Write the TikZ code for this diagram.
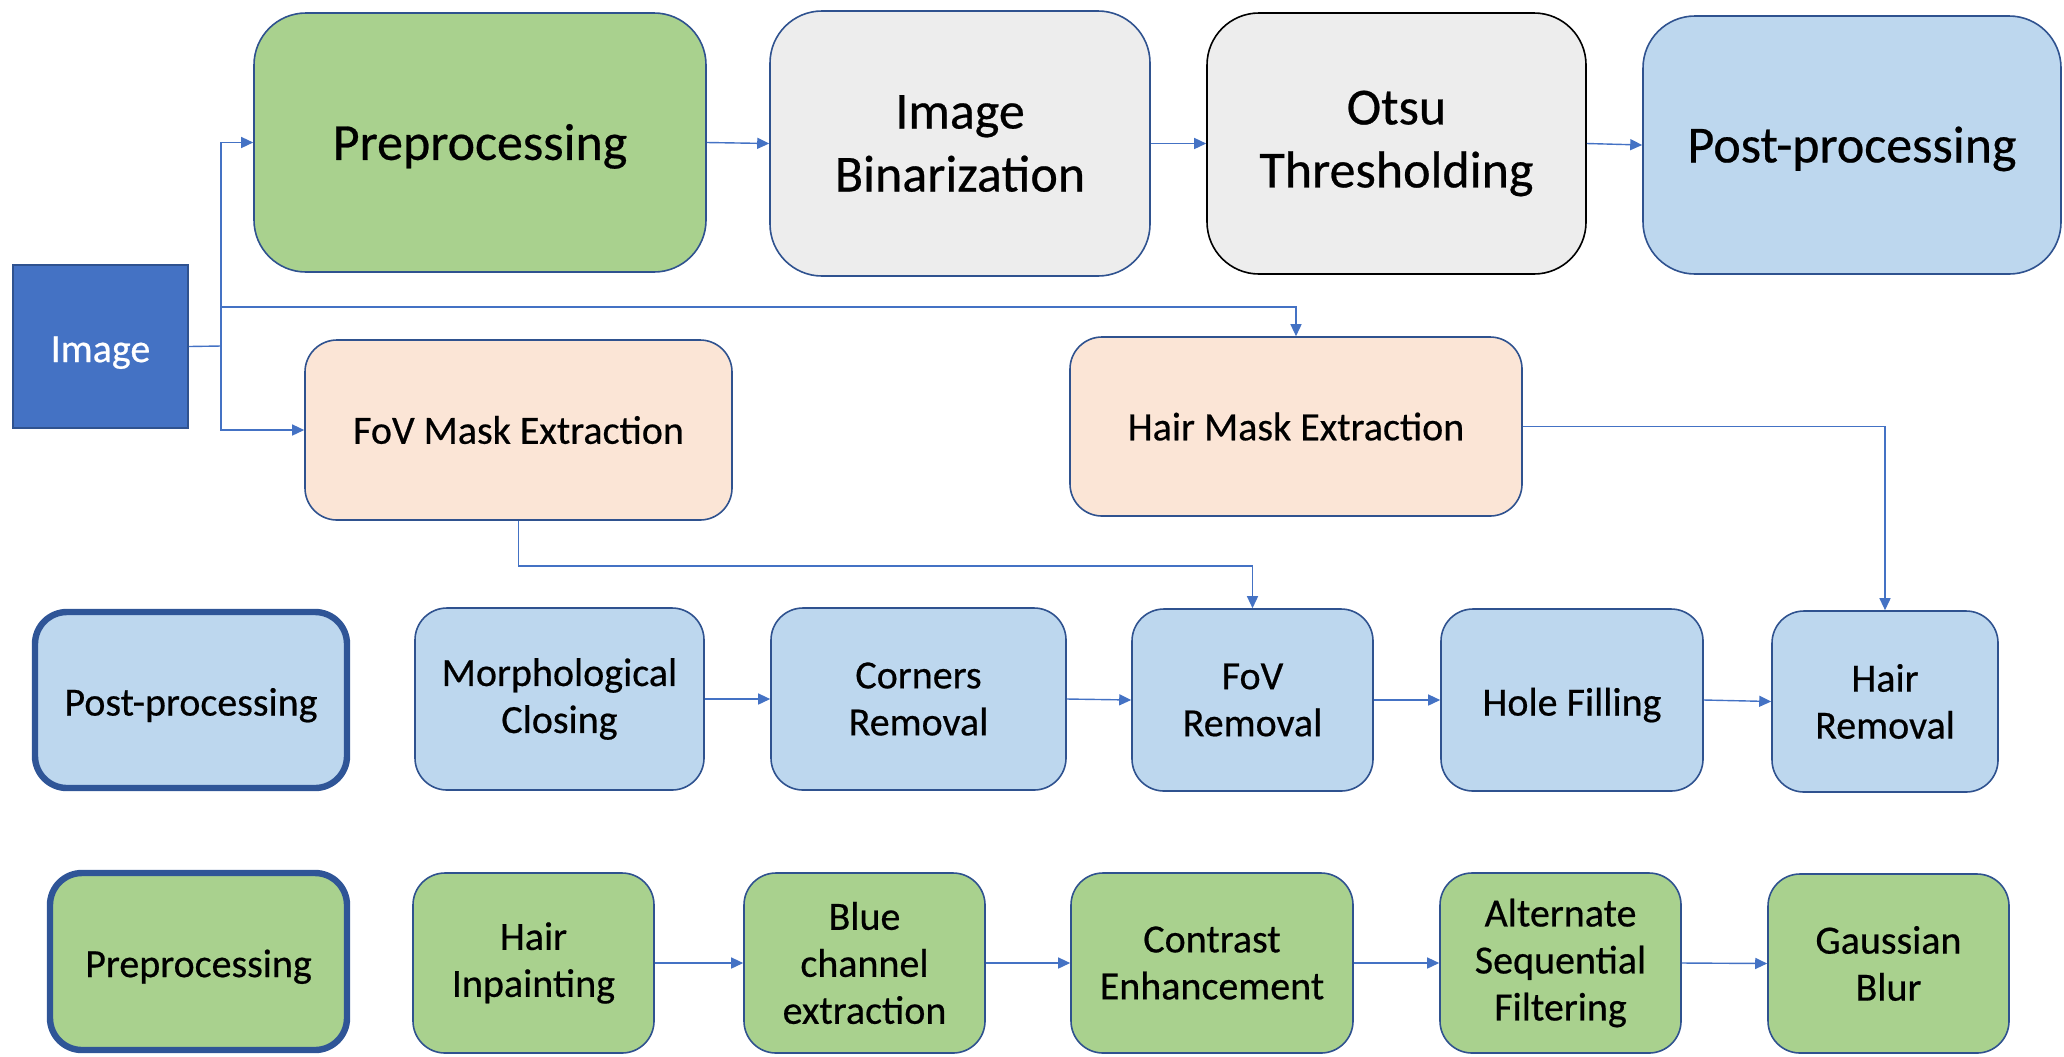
\documentclass[tikz,border=0pt]{standalone}
\usepackage{fontspec}
\setmainfont{Carlito}[FakeBold=0.5]
\usetikzlibrary{arrows.meta}
\definecolor{cgreen}{HTML}{A9D18E}
\definecolor{cgrey}{HTML}{EDEDED}
\definecolor{cblue}{HTML}{BDD7EE}
\definecolor{cpeach}{HTML}{FBE5D6}
\definecolor{cimg}{HTML}{4472C4}
\definecolor{cline}{HTML}{2F528F}
\definecolor{carr}{HTML}{4472C4}
\definecolor{cthick}{HTML}{2F5597}
\tikzset{
  bx/.style={draw=cline, line width=0.8pt, rounded corners=#1, align=center, inner sep=0pt, text=black},
  bx/.default=16pt,
  lowertext/.style={execute at begin node={\rule{0pt}{#1}}},
  topbox/.style={bx=26pt, font=\fontsize{26}{31.5}\selectfont, lowertext=0.84em},
  rowbox/.style={bx=16pt, font=\fontsize{20}{23.5}\selectfont},
  lowrow/.style={rowbox, lowertext=0.95em},
  thickbox/.style={lowrow, draw=cthick, line width=3.2pt},
  conn/.style={draw=carr, line width=0.7pt},
  arr/.style={conn, -{Triangle[length=6pt,width=5.5pt]}},
  sz/.style 2 args={minimum width=#1*0.5pt, minimum height=#2*0.5pt}
}
\begin{document}
\begin{tikzpicture}[x=0.5pt,y=-0.5pt]
\useasboundingbox (0,0) rectangle (2064,1056);
% top row
\node[topbox, fill=cgreen, sz={452}{259}] (pre) at (480,142.5) {Preprocessing};
\node[topbox, fill=cgrey, sz={380}{265}] (bin) at (960,143.5) {Image\\Binarization};
\node[topbox, fill=cgrey, draw=black, sz={379}{261}] (otsu) at (1396.5,143.5) {Otsu\\Thresholding};
\node[topbox, fill=cblue, sz={418}{258}] (post) at (1852,145) {Post-processing};
% image
\node[draw=cline, line width=0.8pt, fill=cimg, text=white, font=\fontsize{20}{24}\selectfont, lowertext=0.95em, sz={175}{163}, inner sep=0pt] (img) at (100.5,346.5) {Image};
% masks
\node[rowbox, fill=cpeach, sz={427}{180}] (fov) at (518.5,430) {FoV Mask Extraction};
\node[rowbox, fill=cpeach, sz={452}{179}] (hairm) at (1296,426.5) {Hair Mask Extraction};
% post-processing row
\node[thickbox, fill=cblue, sz={312}{176}] (postb) at (191,700) {Post-processing};
\node[lowrow, fill=cblue, sz={289}{182}] (morph) at (559.5,699) {Morphological\\Closing};
\node[lowrow, fill=cblue, sz={295}{182}] (corn) at (918.5,699) {Corners\\Removal};
\node[lowrow, fill=cblue, sz={241}{182}] (fovr) at (1252.5,700) {FoV\\Removal};
\node[lowrow, fill=cblue, sz={262}{182}] (hole) at (1572,700) {Hole Filling};
\node[lowrow, fill=cblue, sz={226}{181}] (hairr) at (1885,701.5) {Hair\\Removal};
% preprocessing row
\node[thickbox, fill=cgreen, sz={297}{177}] (preb) at (198.5,961.5) {Preprocessing};
\node[lowrow, fill=cgreen, sz={241}{180}] (inp) at (533.5,963) {Hair\\Inpainting};
\node[lowrow, fill=cgreen, sz={241}{180}] (blue) at (864.5,963) {Blue\\channel\\extraction};
\node[lowrow, fill=cgreen, sz={282}{180}] (contr) at (1212,963) {Contrast\\Enhancement};
\node[lowrow, fill=cgreen, sz={241}{180}] (asf) at (1560.5,963) {Alternate\\Sequential\\Filtering};
\node[lowrow, fill=cgreen, sz={241}{179}] (gauss) at (1888.5,963.5) {Gaussian\\Blur};
% connectors
\coordinate (tr) at (221,346);
\coordinate (br) at (221,307);
\draw[conn] (img.east) -- (tr);
\draw[arr] (tr) |- (pre.west);
\draw[arr] (tr) |- (fov.west);
\draw[arr] (br) -| (hairm.north);
\draw[arr] (pre.east) -- (bin.west);
\draw[arr] (bin.east) -- (otsu.west);
\draw[arr] (otsu.east) -- (post.west);
\draw[arr] (fov.south) -- ++(0,45) -| (fovr.north);
\draw[arr] (hairm.east) -| (hairr.north);
\draw[arr] (morph.east) -- (corn.west);
\draw[arr] (corn.east) -- (fovr.west);
\draw[arr] (fovr.east) -- (hole.west);
\draw[arr] (hole.east) -- (hairr.west);
\draw[arr] (inp.east) -- (blue.west);
\draw[arr] (blue.east) -- (contr.west);
\draw[arr] (contr.east) -- (asf.west);
\draw[arr] (asf.east) -- (gauss.west);
\end{tikzpicture}
\end{document}
